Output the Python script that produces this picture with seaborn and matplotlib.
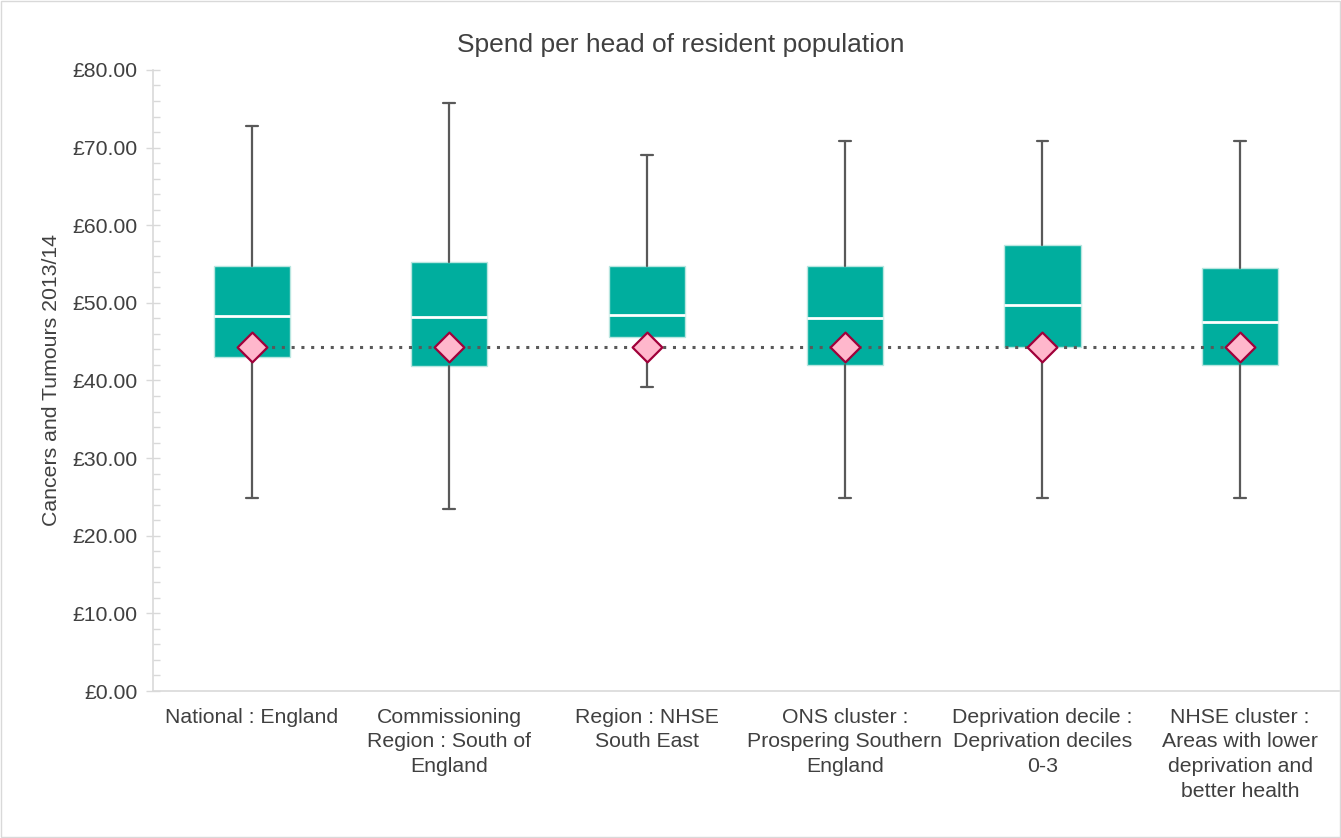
import numpy as np
import pandas as pd
import seaborn as sns
import matplotlib.pyplot as plt
from matplotlib.patches import Rectangle
from matplotlib.ticker import MultipleLocator, FuncFormatter

categories = ["National : England",
              "Commissioning\nRegion : South of\nEngland",
              "Region : NHSE\nSouth East",
              "ONS cluster :\nProspering Southern\nEngland",
              "Deprivation decile :\nDeprivation deciles\n0-3",
              "NHSE cluster :\nAreas with lower\ndeprivation and\nbetter health"]
whisker_low = [24.9, 23.4, 39.2, 24.8, 24.8, 24.8]
q1 = [43.0, 41.9, 45.6, 42.0, 44.3, 42.0]
median = [48.3, 48.2, 48.4, 48.1, 49.7, 47.5]
q3 = [54.7, 55.3, 54.7, 54.7, 57.4, 54.5]
whisker_high = [72.8, 75.8, 69.0, 70.8, 70.8, 70.8]
mean_value = [44.3, 44.3, 44.3, 44.3, 44.3, 44.3]

sns.set_theme(style="white")
plt.rcParams["font.family"] = ["Liberation Sans", "DejaVu Sans"]

text_col = "#404040"
fig = plt.figure(figsize=(13.41, 8.38), dpi=100)
ax = fig.add_axes([0.114, 0.1754, 0.8845, 0.7411])

stats = []
for i in range(len(categories)):
    stats.append({"whislo": whisker_low[i], "q1": q1[i], "med": median[i],
                  "q3": q3[i], "whishi": whisker_high[i], "fliers": []})

ax.bxp(stats, positions=range(len(categories)), widths=0.385, capwidths=0.06,
       patch_artist=True, showfliers=False,
       boxprops=dict(facecolor="#00AE9E", edgecolor="#B8E6E0", linewidth=1),
       medianprops=dict(color="white", linewidth=2),
       whiskerprops=dict(color="#595959", linewidth=1.6),
       capprops=dict(color="#595959", linewidth=1.6))

mean_df = pd.DataFrame({"pos": range(len(categories)), "mean": mean_value})
sns.lineplot(data=mean_df, x="pos", y="mean", ax=ax, color="#595959",
             linestyle=(0, (1, 2.2)), linewidth=2.2, zorder=4)
sns.scatterplot(data=mean_df, x="pos", y="mean", ax=ax, marker="D", s=230,
                color="#FFB7CC", edgecolor="#A0003A", linewidth=1.6, zorder=5)

ax.set_xlim(-0.5, len(categories) - 0.5)
ax.set_ylim(0, 80)
ax.set_xticks(range(len(categories)))
ax.set_xticklabels(categories, fontsize=15.3, color=text_col, linespacing=1.38)
ax.yaxis.set_major_locator(MultipleLocator(10))
ax.yaxis.set_minor_locator(MultipleLocator(2))
ax.yaxis.set_major_formatter(FuncFormatter(lambda v, p: f"£{v:.2f}"))
ax.tick_params(axis="y", which="major", direction="inout", length=10, width=1,
               color="#D9D9D9", labelsize=15.3, labelcolor=text_col, pad=6, left=True)
ax.tick_params(axis="y", which="minor", direction="in", length=5, width=1,
               color="#D9D9D9", left=True)
ax.tick_params(axis="x", length=0, pad=12)
for side in ["top", "right"]:
    ax.spines[side].set_visible(False)
for side in ["left", "bottom"]:
    ax.spines[side].set_color("#D9D9D9")
    ax.spines[side].set_linewidth(1.2)

ax.set_xlabel("")
ax.set_ylabel("Cancers and Tumours 2013/14", fontsize=15.3, color=text_col, labelpad=8)
fig.text(0.508, 0.946, "Spend per head of resident population", ha="center",
         va="center", fontsize=19, color=text_col)

fig.patches.append(Rectangle((0.001, 0.001), 0.998, 0.998, transform=fig.transFigure,
                             fill=False, edgecolor="#D9D9D9", linewidth=1))

fig.savefig("out.png", dpi=100)
